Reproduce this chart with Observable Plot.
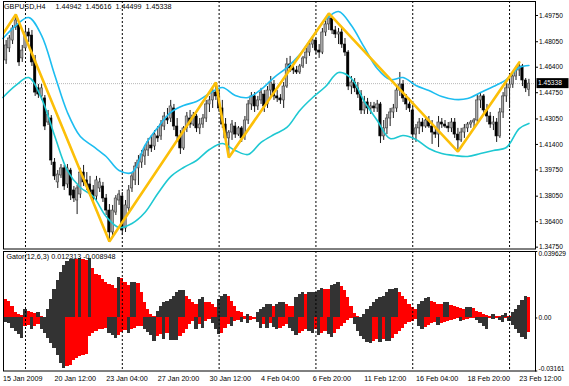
<!DOCTYPE html>
<html><head><meta charset="utf-8">
<script src="https://cdn.jsdelivr.net/npm/d3@7"></script>
<script src="https://cdn.jsdelivr.net/npm/@observablehq/plot@0.6"></script>
<style>
body{margin:0;background:#fff;}
#wrap{position:relative;width:569px;height:386px;overflow:hidden;background:#fff;}
#top,#bot{position:absolute;left:0;}
#top{top:0px;}
#bot{top:250px;}
</style></head><body><div id="wrap"><div id="top"></div><div id="bot"></div></div>
<script>
const symbol = "GBPUSD,H4";
const lastQuote = [1.44942, 1.45616, 1.44499, 1.45338];

const open = [
1.4638,1.4684,1.4762,1.4813,1.4897,1.4917,1.4697,1.4762,1.4865,1.4845,
1.4684,1.4503,1.4451,1.4438,1.4282,1.4308,1.4023,1.3894,1.3939,1.3985,
1.3881,1.3971,1.3842,1.3777,1.3816,1.3958,1.3907,1.3881,1.3842,1.3803,
1.3855,1.3868,1.3790,1.3712,1.3570,1.3699,1.3777,1.3803,1.3596,1.3726,
1.3855,1.3907,1.3985,1.4023,1.4062,1.4101,1.4133,1.4127,1.4192,1.4192,
1.4256,1.4308,1.4308,1.4373,1.4256,1.4192,1.4114,1.4244,1.4308,1.4269,
1.4321,1.4244,1.4269,1.4308,1.4399,1.4425,1.4476,1.4451,1.4373,1.4269,
1.4179,1.4217,1.4256,1.4204,1.4244,1.4192,1.4295,1.4399,1.4451,1.4386,
1.4425,1.4463,1.4399,1.4489,1.4528,1.4451,1.4438,1.4425,1.4515,1.4658,
1.4632,1.4619,1.4606,1.4645,1.4697,1.4735,1.4787,1.4813,1.4748,1.4735,
1.4865,1.4917,1.4956,1.4878,1.4852,1.4865,1.4787,1.4735,1.4515,1.4541,
1.4503,1.4463,1.4360,1.4412,1.4373,1.4386,1.4373,1.4399,1.4192,1.4244,
1.4308,1.4347,1.4373,1.4489,1.4528,1.4438,1.4399,1.4360,1.4204,1.4244,
1.4282,1.4256,1.4295,1.4256,1.4217,1.4204,1.4282,1.4269,1.4256,1.4244,
1.4282,1.4204,1.4166,1.4217,1.4244,1.4269,1.4282,1.4295,1.4425,1.4451,
1.4360,1.4321,1.4269,1.4282,1.4192,1.4347,1.4451,1.4503,1.4528,1.4580,
1.4619,1.4645,1.4554,1.44942];
const high = [
1.4690,1.4813,1.4845,1.4910,1.4981,1.4930,1.4781,1.4897,1.4891,1.4878,
1.4716,1.4528,1.4528,1.4457,1.4360,1.4327,1.4049,1.3971,1.4010,1.4004,
1.4010,1.3985,1.3868,1.3874,1.3985,1.4004,1.3958,1.3933,1.3874,1.3933,
1.3920,1.3894,1.3816,1.3751,1.3745,1.3809,1.3842,1.3829,1.3777,1.3874,
1.3958,1.4023,1.4068,1.4101,1.4133,1.4179,1.4198,1.4230,1.4256,1.4295,
1.4347,1.4373,1.4425,1.4399,1.4308,1.4230,1.4256,1.4347,1.4360,1.4347,
1.4334,1.4308,1.4334,1.4425,1.4451,1.4515,1.4541,1.4489,1.4425,1.4308,
1.4230,1.4295,1.4282,1.4256,1.4256,1.4321,1.4425,1.4476,1.4476,1.4451,
1.4503,1.4489,1.4515,1.4580,1.4554,1.4489,1.4463,1.4541,1.4697,1.4710,
1.4671,1.4645,1.4658,1.4710,1.4762,1.4813,1.4839,1.4826,1.4787,1.4891,
1.4943,1.4988,1.4969,1.4904,1.4891,1.4891,1.4826,1.4748,1.4580,1.4567,
1.4541,1.4489,1.4451,1.4438,1.4412,1.4412,1.4425,1.4412,1.4295,1.4334,
1.4373,1.4399,1.4515,1.4606,1.4554,1.4463,1.4438,1.4386,1.4269,1.4308,
1.4308,1.4321,1.4321,1.4295,1.4244,1.4321,1.4308,1.4295,1.4282,1.4308,
1.4308,1.4244,1.4244,1.4269,1.4282,1.4295,1.4308,1.4463,1.4476,1.4463,
1.4399,1.4347,1.4321,1.4308,1.4373,1.4476,1.4541,1.4567,1.4606,1.4645,
1.4671,1.4658,1.4567,1.45616];
const low = [
1.4625,1.4658,1.4735,1.4787,1.4878,1.4645,1.4671,1.4748,1.4800,1.4645,
1.4451,1.4438,1.4425,1.4230,1.4263,1.4004,1.3907,1.3855,1.3920,1.3842,
1.3855,1.3777,1.3764,1.3686,1.3790,1.3868,1.3842,1.3803,1.3764,1.3777,
1.3829,1.3764,1.3680,1.3512,1.3544,1.3680,1.3745,1.3550,1.3570,1.3699,
1.3829,1.3874,1.3874,1.3985,1.4004,1.4062,1.4088,1.4101,1.4153,1.4166,
1.4230,1.4269,1.4282,1.4230,1.4153,1.4075,1.4101,1.4217,1.4244,1.4256,
1.4217,1.4204,1.4244,1.4282,1.4347,1.4373,1.4425,1.4347,1.4244,1.4153,
1.4055,1.4166,1.4179,1.4192,1.4153,1.4166,1.4269,1.4360,1.4347,1.4360,
1.4399,1.4347,1.4373,1.4451,1.4425,1.4412,1.4399,1.4373,1.4503,1.4606,
1.4593,1.4593,1.4593,1.4632,1.4658,1.4710,1.4762,1.4722,1.4697,1.4722,
1.4839,1.4878,1.4852,1.4826,1.4787,1.4762,1.4710,1.4489,1.4463,1.4476,
1.4438,1.4334,1.4334,1.4334,1.4334,1.4347,1.4347,1.4146,1.4166,1.4204,
1.4256,1.4308,1.4347,1.4451,1.4412,1.4360,1.4347,1.4166,1.4153,1.4204,
1.4217,1.4244,1.4244,1.4140,1.4179,1.4120,1.4244,1.4244,1.4217,1.4217,
1.4179,1.4094,1.4153,1.4179,1.4217,1.4244,1.4244,1.4282,1.4373,1.4334,
1.4282,1.4244,1.4230,1.4153,1.4179,1.4308,1.4412,1.4373,1.4503,1.4554,
1.4580,1.4515,1.4476,1.44499];
const close = [
1.4671,1.4781,1.4826,1.4891,1.4943,1.4671,1.4748,1.4865,1.4839,1.4671,
1.4476,1.4463,1.4503,1.4256,1.4334,1.4036,1.3933,1.3945,1.3985,1.3868,
1.3985,1.3809,1.3790,1.3855,1.3958,1.3894,1.3868,1.3829,1.3790,1.3907,
1.3894,1.3790,1.3712,1.3570,1.3712,1.3790,1.3816,1.3583,1.3745,1.3842,
1.3933,1.3997,1.4036,1.4075,1.4101,1.4153,1.4114,1.4204,1.4179,1.4269,
1.4321,1.4295,1.4386,1.4256,1.4192,1.4114,1.4244,1.4321,1.4269,1.4327,
1.4244,1.4269,1.4308,1.4399,1.4425,1.4489,1.4451,1.4373,1.4269,1.4179,
1.4217,1.4269,1.4204,1.4244,1.4179,1.4295,1.4399,1.4451,1.4386,1.4425,
1.4476,1.4386,1.4489,1.4541,1.4451,1.4438,1.4425,1.4515,1.4658,1.4632,
1.4619,1.4606,1.4645,1.4697,1.4735,1.4787,1.4813,1.4748,1.4735,1.4865,
1.4917,1.4956,1.4878,1.4852,1.4865,1.4787,1.4735,1.4515,1.4541,1.4503,
1.4463,1.4360,1.4412,1.4373,1.4386,1.4373,1.4399,1.4192,1.4244,1.4308,
1.4347,1.4373,1.4489,1.4528,1.4438,1.4399,1.4373,1.4204,1.4244,1.4282,
1.4256,1.4295,1.4256,1.4217,1.4204,1.4282,1.4269,1.4256,1.4244,1.4282,
1.4204,1.4166,1.4217,1.4244,1.4269,1.4282,1.4295,1.4425,1.4451,1.4360,
1.4321,1.4269,1.4282,1.4192,1.4347,1.4451,1.4503,1.4528,1.4580,1.4619,
1.4645,1.4554,1.4503,1.45338];

const bandBars = [0,4,8,12,16,20,24,28,32,36,40,44,48,52,56,60,64,68,72,76,80,84,88,92,96,100,104,108,112,116,120,124,128,132,136,140,144,148,152,156,160,163];
const bandUpper = [1.4826,1.4910,1.4962,1.4845,1.4593,1.4347,1.4191,1.4127,1.4062,1.3971,1.3958,1.4133,1.4250,1.4347,1.4392,1.4418,1.4470,1.4509,1.4457,1.4444,1.4496,1.4573,1.4638,1.4722,1.4839,1.4949,1.5001,1.4910,1.4768,1.4632,1.4560,1.4573,1.4522,1.4489,1.4450,1.4431,1.4437,1.4476,1.4515,1.4560,1.4638,1.4651];
const bandLower = [1.4444,1.4522,1.4573,1.4437,1.4198,1.3971,1.3861,1.3803,1.3673,1.3602,1.3628,1.3699,1.3822,1.3932,1.3991,1.4036,1.4107,1.4146,1.4101,1.4075,1.4153,1.4204,1.4250,1.4360,1.4444,1.4515,1.4606,1.4567,1.4418,1.4295,1.4178,1.4198,1.4172,1.4114,1.4081,1.4068,1.4062,1.4081,1.4101,1.4120,1.4243,1.4276];

const zigzagBars = [-3,4,33,66,70,101,141,160];
const zigzagPrices = [1.4761,1.4981,1.3512,1.4541,1.4055,1.4988,1.4094,1.4671];

const gatorName = "Gator(12,6,3)";
const gatorLast = [0.012313, -0.008948];
const gatorUp = [
.0115,.0111,.0101,.0070,.0030,.0020,.0014,.0050,.0040,.0034,
.0026,.0034,.0010,.0004,.0050,.0111,.0171,.0221,.0272,.0312,
.0336,.0348,.0348,.0346,.0356,.0348,.0344,.0352,.0292,.0262,
.0252,.0231,.0211,.0201,.0191,.0175,.0242,.0236,.0211,.0191,
.0211,.0211,.0207,.0151,.0091,.0050,.0020,.0010,.0040,.0070,
.0091,.0101,.0111,.0131,.0151,.0161,.0161,.0131,.0111,.0091,
.0081,.0111,.0121,.0091,.0091,.0081,.0060,.0111,.0131,.0141,
.0131,.0101,.0070,.0040,.0030,.0010,.0020,.0010,.0002,.0030,
.0050,.0060,.0081,.0081,.0066,.0081,.0091,.0095,.0081,.0070,
.0066,.0121,.0141,.0151,.0141,.0151,.0151,.0151,.0161,.0175,
.0171,.0171,.0191,.0201,.0211,.0187,.0161,.0121,.0070,.0026,
.0010,.0002,.0020,.0050,.0070,.0091,.0111,.0121,.0131,.0151,
.0167,.0171,.0175,.0151,.0131,.0111,.0081,.0060,.0050,.0081,
.0101,.0115,.0121,.0101,.0091,.0081,.0081,.0095,.0095,.0074,
.0066,.0060,.0054,.0050,.0064,.0064,.0054,.0040,.0030,.0020,
.0014,.0010,.0020,.0010,.0006,.0014,.0024,.0010,.0030,.0050,
.0074,.0105,.0131,.012313];
const gatorDown = [
-.0020,-.0026,-.0034,-.0060,-.0081,-.0101,-.0121,-.0050,-.0046,-.0070,
-.0050,-.0040,-.0070,-.0091,-.0121,-.0151,-.0181,-.0221,-.0272,-.0302,
-.0292,-.0282,-.0252,-.0242,-.0231,-.0221,-.0215,-.0111,-.0091,-.0081,
-.0070,-.0066,-.0062,-.0091,-.0107,-.0121,-.0107,-.0087,-.0074,-.0091,
-.0066,-.0060,-.0050,-.0050,-.0070,-.0087,-.0107,-.0141,-.0111,-.0101,
-.0131,-.0091,-.0135,-.0135,-.0135,-.0111,-.0091,-.0070,-.0040,-.0020,
-.0070,-.0040,-.0060,-.0020,-.0010,-.0030,-.0070,-.0101,-.0091,-.0060,
-.0040,-.0050,-.0020,-.0014,-.0026,-.0010,-.0034,-.0014,-.0010,-.0026,
-.0060,-.0040,-.0060,-.0030,-.0054,-.0070,-.0060,-.0050,-.0040,-.0060,
-.0081,-.0107,-.0091,-.0081,-.0070,-.0081,-.0091,-.0070,-.0107,-.0091,
-.0081,-.0101,-.0115,-.0091,-.0070,-.0050,-.0030,-.0014,-.0002,-.0040,
-.0081,-.0111,-.0131,-.0147,-.0155,-.0141,-.0131,-.0147,-.0131,-.0141,
-.0141,-.0121,-.0101,-.0081,-.0060,-.0040,-.0026,-.0020,-.0010,-.0050,
-.0066,-.0054,-.0046,-.0034,-.0026,-.0046,-.0030,-.0026,-.0020,-.0014,
-.0010,-.0006,-.0020,-.0014,-.0010,-.0006,-.0004,-.0014,-.0034,-.0050,
-.0066,-.0006,-.0010,-.0004,-.0014,-.0026,-.0006,-.0020,-.0046,-.0070,
-.0095,-.0115,-.0127,-.008948];

const priceTicks = [1.49750,1.48050,1.46400,1.44750,1.43050,1.41400,1.39750,1.38050,1.36400,1.34750];
const gatorTicks = [0.039629, 0, -0.03161];
const gatorTickLabels = ["0.039629", "0.00", "-0.03161"];
const timeLabelBars = [0,16,32,48,64,80,96,112,128,144,160];
const timeLabels = ["15 Jan 2009","20 Jan 12:00","23 Jan 04:00","27 Jan 20:00","30 Jan 12:00","4 Feb 04:00","6 Feb 20:00","11 Feb 12:00","16 Feb 04:00","18 Feb 20:00","23 Feb 12:00"];
const gridBars = [7,37,67,97,127,157];

const RED = "#ff0000", DARK = "#333333";
const FONT = "'Liberation Sans', Arial, sans-serif";
const xDomain = [0.186, 165.04];
const NB = "\u00a0";

const N = close.length;
const bars = d3.range(N).map(i => ({i, o: open[i], h: high[i], l: low[i], c: close[i]}));

// Gator colouring: dark when the bar grew vs the previous one, red when it shrank
const gBars = [];
let cu = RED, cd = DARK;
for (let i = 0; i < N; i++) {
  if (i > 0) {
    if (gatorUp[i] > gatorUp[i-1]) cu = DARK; else if (gatorUp[i] < gatorUp[i-1]) cu = RED;
    if (Math.abs(gatorDown[i]) > Math.abs(gatorDown[i-1])) cd = DARK; else if (Math.abs(gatorDown[i]) < Math.abs(gatorDown[i-1])) cd = RED;
  }
  gBars.push({i, up: gatorUp[i], dn: gatorDown[i], cu, cd});
}

const title = symbol + NB.repeat(5) + lastQuote.map(d => d.toFixed(5)).join(NB.repeat(2));

const topPlot = Plot.plot({
  width: 569, height: 251,
  marginLeft: 3, marginRight: 34, marginTop: 1, marginBottom: 2.5,
  x: {type: "linear", domain: xDomain, axis: null},
  y: {domain: [1.34630, 1.50656], axis: null},
  color: {type: "identity"},
  style: {fontFamily: FONT, fontSize: "7px", background: "white", color: "black", overflow: "visible"},
  marks: [
    Plot.ruleX(gridBars, {x: d => d, stroke: "#000", strokeDasharray: "2,2", strokeWidth: 1}),
    Plot.ruleY([lastQuote[3]], {y: d => d, stroke: "#b8b8b8", strokeDasharray: "1,1", strokeWidth: 1}),
    Plot.ruleX(bars, {x: "i", y1: "l", y2: "h", stroke: "#1a1a1a", strokeWidth: 1, clip: true}),
    Plot.rect(bars, {x1: d => d.i - 0.36, x2: d => d.i + 0.36, y1: "o", y2: "c",
      fill: d => d.c >= d.o ? "#a8a8a8" : "#000", stroke: d => d.c >= d.o ? "#3a3a3a" : "#000", strokeWidth: 0.6, clip: true}),
    Plot.line(bandBars, {x: d => d, y: (d, i) => bandUpper[i], curve: "catmull-rom", stroke: "#1dbdf0", strokeWidth: 1.6}),
    Plot.line(bandBars, {x: d => d, y: (d, i) => bandLower[i], curve: "catmull-rom", stroke: "#1ec8d2", strokeWidth: 1.6}),
    Plot.line(zigzagBars, {x: d => d, y: (d, i) => zigzagPrices[i], stroke: "#fcbf08", strokeWidth: 2.6, strokeLinejoin: "miter", clip: true}),
    Plot.frame({stroke: "#000", strokeWidth: 1}),
    Plot.axisY(priceTicks, {anchor: "right", tickSize: 2, tickPadding: 1.5, tickFormat: d => d.toFixed(5), fontSize: 6.6, label: null, stroke: "#000"}),
    Plot.text([title], {frameAnchor: "top-left", dx: 0.5, dy: 2.5, lineAnchor: "top", textAnchor: "start", text: d => d, fill: "#000", fontSize: 7.2})
  ]
});
document.getElementById("top").appendChild(topPlot);

// current price box on the right axis
{
  const yy = topPlot.scale("y").apply(lastQuote[3]);
  const xx = topPlot.scale("x").apply(xDomain[1]);
  const svg = d3.select(topPlot);
  svg.append("rect").attr("x", xx + 1.5).attr("y", yy - 5).attr("width", 32).attr("height", 10).attr("fill", "#000");
  svg.append("text").attr("x", xx + 3).attr("y", yy).attr("dy", "0.35em").attr("fill", "#fff")
    .attr("text-anchor", "start").attr("font-size", 6.6).attr("font-family", FONT).text(lastQuote[3].toFixed(5));
}

const botPlot = Plot.plot({
  width: 569, height: 136,
  marginLeft: 3, marginRight: 34, marginTop: 1, marginBottom: 15.5,
  x: {type: "linear", domain: xDomain, axis: null},
  y: {domain: [-0.03161, 0.039629], axis: null},
  color: {type: "identity"},
  style: {fontFamily: FONT, fontSize: "7px", background: "white", color: "black", overflow: "visible"},
  marks: [
    Plot.rect(gBars, {x1: d => d.i - 0.5, x2: d => d.i + 0.5, y1: 0, y2: "up", fill: "cu", shapeRendering: "crispEdges", clip: true}),
    Plot.rect(gBars, {x1: d => d.i - 0.5, x2: d => d.i + 0.5, y1: 0, y2: "dn", fill: "cd", shapeRendering: "crispEdges", clip: true}),
    Plot.ruleX(gridBars, {x: d => d, stroke: "#000", strokeDasharray: "2,2", strokeWidth: 1}),
    Plot.frame({stroke: "#000", strokeWidth: 1}),
    Plot.ruleY(gatorTicks, {y: d => d, x1: xDomain[1], x2: xDomain[1] + 0.7, stroke: "#000"}),
    Plot.text(gatorTicks.slice(0, 1), {y: d => d, frameAnchor: "right", dx: 3, textAnchor: "start", lineAnchor: "top", text: (d, i) => gatorTickLabels[0], fontSize: 6.6}),
    Plot.text(gatorTicks.slice(1, 2), {y: d => d, frameAnchor: "right", dx: 3, textAnchor: "start", text: (d, i) => gatorTickLabels[1], fontSize: 6.6}),
    Plot.text(gatorTicks.slice(2, 3), {y: d => d, frameAnchor: "right", dx: 3, textAnchor: "start", lineAnchor: "bottom", text: (d, i) => gatorTickLabels[2], fontSize: 6.6}),
    Plot.text([`${gatorName} ${gatorLast[0].toFixed(6)} ${gatorLast[1].toFixed(6)}`], {frameAnchor: "top-left", dx: 3, dy: 2.5, lineAnchor: "top", textAnchor: "start", text: d => d, fill: "#000", fontSize: 7.2}),
    Plot.text(timeLabelBars, {x: d => d, frameAnchor: "bottom", dy: 9.5, textAnchor: "start", text: (d, i) => timeLabels[i], fill: "#000", fontSize: 7.2})
  ]
});
document.getElementById("bot").appendChild(botPlot);
</script>
</body></html>
